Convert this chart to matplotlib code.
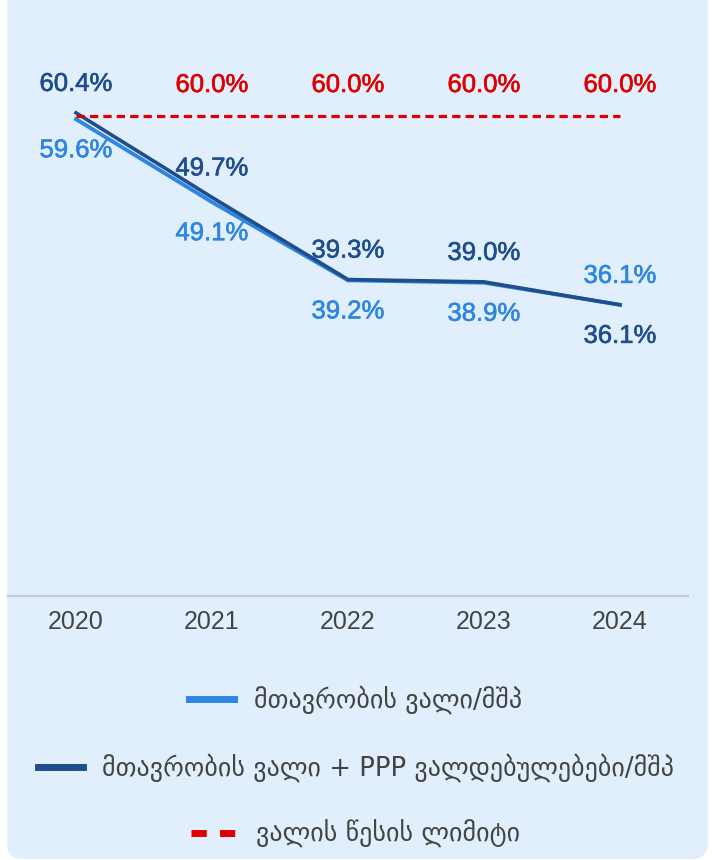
import matplotlib
matplotlib.use('Agg')
import matplotlib.pyplot as plt
from matplotlib.patches import FancyBboxPatch
from matplotlib.lines import Line2D
import matplotlib.patheffects as pe

# ---- data ----
years = ['2020', '2021', '2022', '2023', '2024']
gov_debt = [59.6, 49.1, 39.2, 38.9, 36.1]          # მთავრობის ვალი/მშპ
gov_debt_ppp = [60.4, 49.7, 39.3, 39.0, 36.1]      # + PPP
debt_limit = [60.0, 60.0, 60.0, 60.0, 60.0]
series_names = ['მთავრობის ვალი/მშპ',
                'მთავრობის ვალი + PPP ვალდებულებები/მშპ',
                'ვალის წესის ლიმიტი']

# ---- style ----
C_LIGHT = '#2f86e2'
C_DARK = '#1f4e8c'
C_RED = '#de0000'
C_TEXT = '#444444'
BG = '#e1effc'
NUM_FONT = ['Liberation Sans', 'DejaVu Sans']
GEO_FONT = ['DejaVu Sans']

W, H = 712, 860
fig = plt.figure(figsize=(W / 100, H / 100), dpi=100)
fig.patch.set_facecolor('white')
panel = FancyBboxPatch((0.07, 0.01), 7.01, 9.0,
                       boxstyle='round,pad=0,rounding_size=0.16',
                       transform=fig.dpi_scale_trans,
                       facecolor=BG, edgecolor='none', zorder=0)
fig.add_artist(panel)

ax = fig.add_axes([8 / W, (H - 596) / H, 680 / W, 559 / H])
ax.set_facecolor('none')
x = list(range(len(years)))
ax.set_xlim(-0.5, len(years) - 0.5)
ax.set_ylim(-0.76, 70)

ax.plot(x, gov_debt, color=C_LIGHT, lw=2.8, solid_joinstyle='miter', zorder=3)
ax.plot(x, gov_debt_ppp, color=C_DARK, lw=2.6, solid_joinstyle='miter', zorder=4)
ax.plot(x, debt_limit, color=C_RED, lw=2.3, ls=(0, (2.6, 1.6)), zorder=5)

for s in ['top', 'left', 'right']:
    ax.spines[s].set_visible(False)
ax.spines['bottom'].set_color('#c3ccd6')
ax.spines['bottom'].set_linewidth(1.6)
ax.set_yticks([])
ax.set_xticks(x)
ax.set_xticklabels(years, family=NUM_FONT, fontsize=18, color=C_TEXT)
ax.tick_params(axis='x', length=0, pad=10)

UP, DOWN = 15.8, -27.4
dark_pos = [UP, UP, UP, UP, DOWN]
light_pos = [DOWN, DOWN, DOWN, DOWN, UP]


def label(i, v, dy, color):
    ax.annotate(f'{v:.1f}%', (i, v), xytext=(0, dy),
                textcoords='offset points', ha='center', va='baseline',
                color=color, fontsize=18.5, family=NUM_FONT, zorder=6,
                path_effects=[pe.withStroke(linewidth=0.45, foreground=color)])


for i in x:
    label(i, gov_debt_ppp[i], dark_pos[i], C_DARK)
    label(i, gov_debt[i], light_pos[i], C_LIGHT)
    if i > 0:
        label(i, debt_limit[i], 17.3, C_RED)

# ---- legend: each entry centred on its own row ----
handles = [
    Line2D([], [], color=C_LIGHT, lw=5),
    Line2D([], [], color=C_DARK, lw=5),
    Line2D([], [], color=C_RED, lw=5, ls=(0, (2.2, 1.9))),
]
rows = [700, 768, 834]
FS = 18.7
fpx = FS / 0.72
for h, name, yy in zip(handles, series_names, rows):
    leg = fig.legend(handles=[h], labels=[name], loc='center',
                     bbox_to_anchor=(0.5, 1 - yy / H), frameon=False,
                     prop={'family': GEO_FONT, 'size': FS},
                     handlelength=45 / fpx, handletextpad=20 / fpx,
                     borderpad=0, borderaxespad=0)
    for t in leg.get_texts():
        t.set_color(C_TEXT)

fig.savefig('out.png', dpi=100, facecolor='white')
